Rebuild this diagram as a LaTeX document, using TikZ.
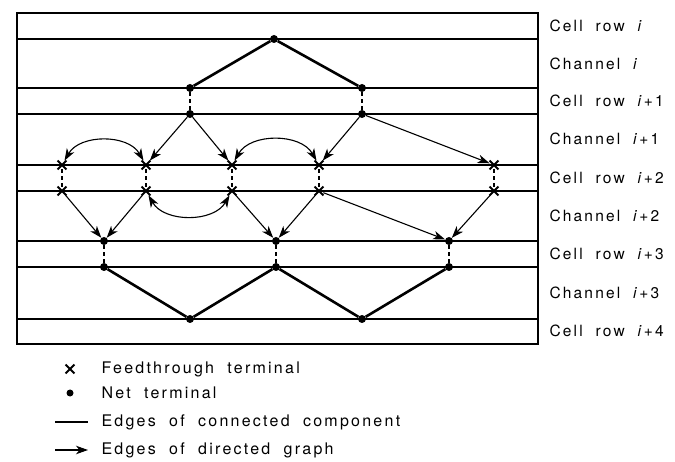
\documentclass[tikz,border=0pt]{standalone}
\usepackage{fontspec}
\setmainfont{TeX Gyre Heros}[LetterSpace=14,WordSpace=2]
\usetikzlibrary{arrows.meta,shapes.misc}

\begin{document}
\begin{tikzpicture}[x=1pt,y=-1pt,
		net/.style={circle,fill,inner sep=0pt,minimum size=8pt},
		feed/.style={cross out,draw,line width=1.8pt,inner sep=0pt,minimum size=7pt},
		comp/.style={line width=2.6pt},
		link/.style={dash pattern=on 4pt off 3pt,line width=1.8pt},
		dir/.style={line width=1.1pt,-{Stealth[length=12pt,width=8.5pt,inset=3.5pt]}},
		both/.style={line width=1.1pt,{Stealth[length=12pt,width=8.5pt,inset=3.5pt]}-{Stealth[length=12pt,width=8.5pt,inset=3.5pt]}},
		lbl/.style={anchor=west,font=\fontsize{15.5}{18}\selectfont},
		key/.style={anchor=west,font=\fontsize{16}{19}\selectfont}]
		\useasboundingbox (0,0) rectangle (675,462);
		
		% rows and channels
		\draw[line width=1.6pt] (17,13) rectangle (538,344);
		\foreach \y in {39,88,114,165,191,241,267,319}
		\draw[line width=1.6pt] (17,\y) -- (538,\y);
		
		\foreach \y/\t [count=\k] in {26/Cell row \textit{i},64/Channel \textit{i},101/Cell row \textit{i}+1,
			139/Channel \textit{i}+1,178/Cell row \textit{i}+2,216/Channel \textit{i}+2,254/Cell row \textit{i}+3,
			293/Channel \textit{i}+3,331/Cell row \textit{i}+4}
		\node[lbl](ROW\k) at (546,\y){\t};
		
		% terminals
		\node[net](NT1) at (274,39){};
		\node[net](NT2) at (190,88){};
		\node[net](NT3) at (362,88){};
		\node[net](NT4) at (190,114){};
		\node[net](NT5) at (362,114){};
		
		\foreach \x [count=\k] in {62,146,232,319,494}{
			\node[feed](FT\k) at (\x,165){};
			\node[feed](FB\k) at (\x,191){};
			\draw[link] (FT\k) -- (FB\k);
		}
		
		\node[net](NT6) at (104,241){};
		\node[net](NT7) at (276,241){};
		\node[net](NT8) at (449,241){};
		\node[net](NT9) at (104,267){};
		\node[net](NT10) at (276,267){};
		\node[net](NT11) at (449,267){};
		\node[net](NT12) at (190,319){};
		\node[net](NT13) at (362,319){};
		
		% connected components
		\draw[comp] (NT2) -- (NT1) -- (NT3);
		\draw[comp] (NT9) -- (NT12) -- (NT10) -- (NT13) -- (NT11);
		
		\draw[link] (NT2) -- (NT4);
		\draw[link] (NT3) -- (NT5);
		\draw[link] (NT6) -- (NT9);
		\draw[link] (NT7) -- (NT10);
		\draw[link] (NT8) -- (NT11);
		
		% directed graph
		\draw[dir] (NT4) -- (FT2);
		\draw[dir] (NT4) -- (FT3);
		\draw[dir] (NT5) -- (FT4);
		\draw[dir] (NT5) -- (FT5);
		\draw[both] (FT1) to[bend left=60] (FT2);
		\draw[both] (FT3) to[bend left=60] (FT4);
		\draw[both] (FB2) to[bend right=60] (FB3);
		
		\draw[dir] (FB1) -- (NT6);
		\draw[dir] (FB2) -- (NT6);
		\draw[dir] (FB3) -- (NT7);
		\draw[dir] (FB4) -- (NT7);
		\draw[dir] (FB4) -- (NT8);
		\draw[dir] (FB5) -- (NT8);
		
		% legend
		\node[feed](LGFT) at (70,369){};
		\node[key](LGT1) at (98,369){Feedthrough terminal};
		\node[net,minimum size=7pt](LGNT) at (70,393){};
		\node[key](LGT2) at (98,393){Net terminal};
		\coordinate (LGA) at (55,422);
		\coordinate (LGB) at (88,422);
		\draw[comp] (LGA) -- (LGB);
		\node[key](LGT3) at (98,422){Edges of connected component};
		\coordinate (LGC) at (55,450);
		\coordinate (LGD) at (88,450);
		\draw[dir] (LGC) -- (LGD);
		\node[key](LGT4) at (98,450){Edges of directed graph};
\end{tikzpicture}
\end{document}
